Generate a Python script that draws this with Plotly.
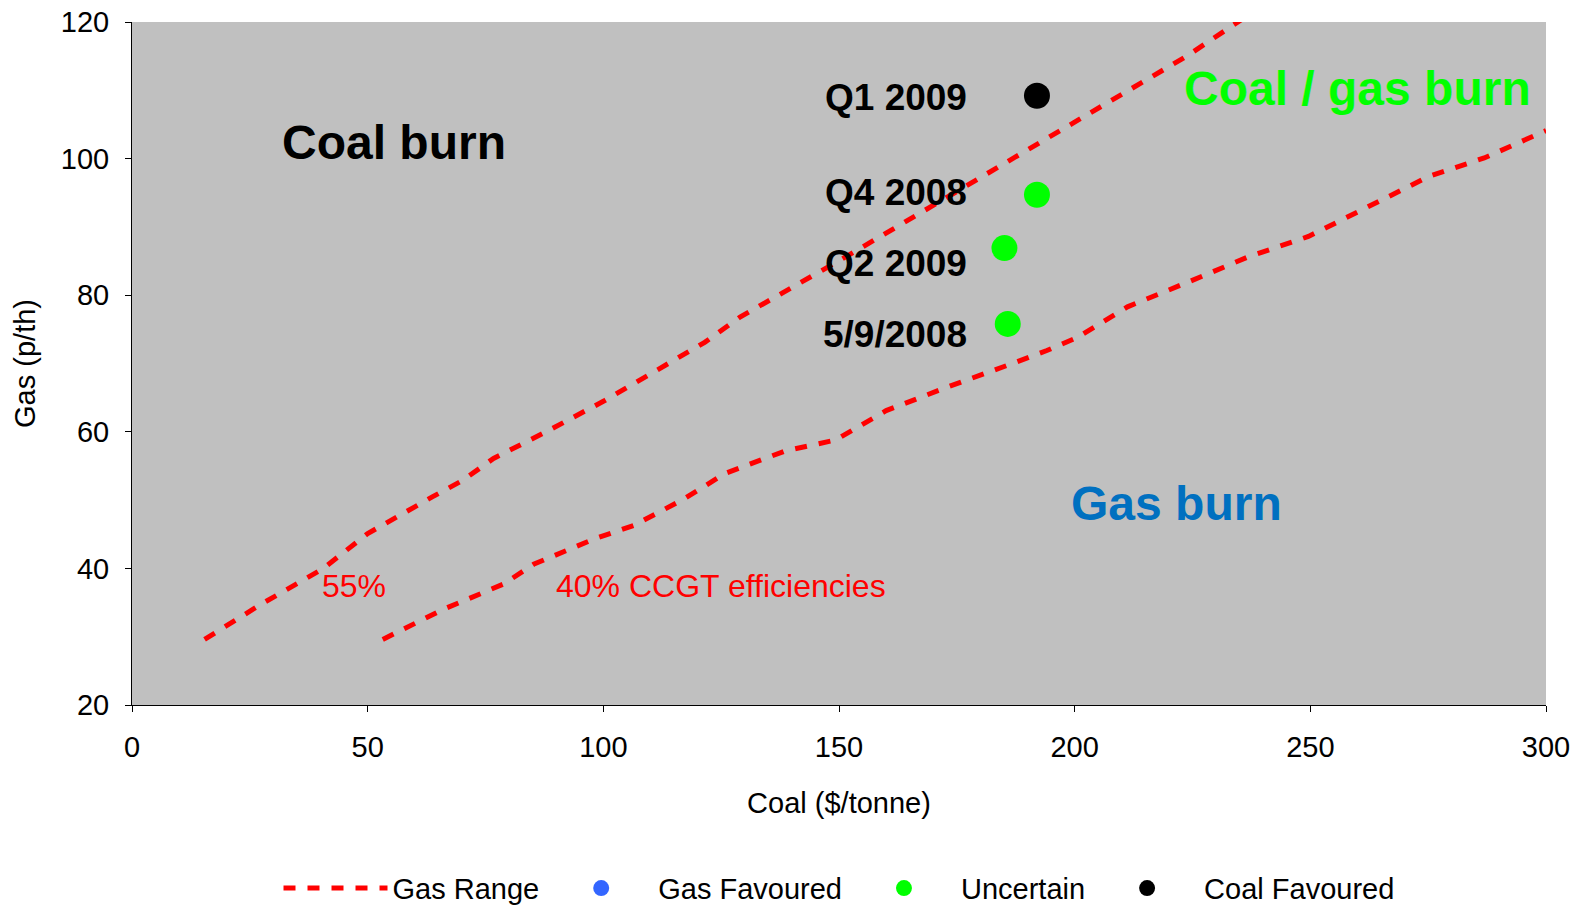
import plotly.graph_objects as go

# ---- data ----
line55_coal = [15.4, 27.5, 40.4, 50.0, 63.8, 70.2, 76.7, 87.3, 100.1, 110.8, 121.5, 129.0, 138.6, 151.4, 164.2, 177.0, 185.5, 198.4, 211.2, 224.0, 236.8]
line55_gas = [29.6, 34.8, 39.9, 45.1, 50.5, 52.9, 56.1, 59.8, 64.5, 68.7, 73.1, 76.8, 80.5, 85.6, 90.8, 96.0, 99.6, 104.8, 110.0, 115.1, 121.0]

line40_coal = [53.2, 66.0, 78.8, 85.2, 98.0, 106.5, 117.2, 125.8, 138.6, 149.3, 160.0, 172.8, 185.6, 194.1, 200.5, 211.2, 224.0, 236.8, 249.6, 262.4, 275.2, 286.9, 300.0]
line40_gas = [29.6, 34.0, 37.7, 40.6, 44.3, 46.3, 50.2, 53.9, 57.2, 58.8, 63.1, 66.5, 69.7, 71.9, 73.8, 78.3, 81.9, 85.6, 88.6, 93.0, 97.4, 100.1, 104.1]

# no points in the "Gas Favoured" class (legend entry only)
gas_fav_coal = [None]
gas_fav_gas = [None]

uncertain_labels = ["Q4 2008", "Q2 2009", "5/9/2008"]
uncertain_coal = [192.0, 185.1, 185.8]
uncertain_gas = [94.7, 86.9, 75.8]

coal_fav_labels = ["Q1 2009"]
coal_fav_coal = [192.0]
coal_fav_gas = [109.2]

x_ticks = [0, 50, 100, 150, 200, 250, 300]
y_ticks = [20, 40, 60, 80, 100, 120]

FONT = "Liberation Sans, Arial, sans-serif"
RED = "#FF0000"
GREEN = "#00FF00"
BLACK = "#000000"
BLUE_MARK = "#3366FF"

fig = go.Figure()
fig.add_trace(go.Scatter(x=line55_coal, y=line55_gas, mode="lines", name="Gas Range",
                         line=dict(color=RED, width=5, dash="12px,12px"), legendrank=1))
fig.add_trace(go.Scatter(x=line40_coal, y=line40_gas, mode="lines", name="Gas Range",
                         line=dict(color=RED, width=5, dash="12px,12px"), showlegend=False))
fig.add_trace(go.Scatter(x=gas_fav_coal, y=gas_fav_gas, mode="markers", name="Gas Favoured",
                         marker=dict(color=BLUE_MARK, size=24), legendrank=2))
fig.add_trace(go.Scatter(x=uncertain_coal, y=uncertain_gas, mode="markers", name="Uncertain",
                         marker=dict(color=GREEN, size=26), legendrank=3))
fig.add_trace(go.Scatter(x=coal_fav_coal, y=coal_fav_gas, mode="markers", name="Coal Favoured",
                         marker=dict(color=BLACK, size=26), legendrank=4))

annotations = []
# point labels
label_pos = {"Q1 2009": 109.0, "Q4 2008": 95.1, "Q2 2009": 84.7, "5/9/2008": 74.3}
for lab, yy in label_pos.items():
    annotations.append(dict(x=177.6, y=yy, text="<b>%s</b>" % lab, showarrow=False,
                            xanchor="right", yanchor="middle",
                            font=dict(family=FONT, size=37, color=BLACK)))
annotations += [
    dict(x=55.6, y=102.3, text="<b>Coal burn</b>", showarrow=False,
         font=dict(family=FONT, size=48, color=BLACK)),
    dict(x=260.0, y=110.3, text="<b>Coal / gas burn</b>", showarrow=False,
         font=dict(family=FONT, size=48, color=GREEN)),
    dict(x=221.6, y=49.5, text="<b>Gas burn</b>", showarrow=False,
         font=dict(family=FONT, size=48, color="#0070C0")),
    dict(x=47.0, y=37.4, text="55%", showarrow=False,
         font=dict(family=FONT, size=32, color=RED)),
    dict(x=124.9, y=37.4, text="40% CCGT efficiencies", showarrow=False,
         font=dict(family=FONT, size=32, color=RED)),
]

fig.update_layout(
    width=1578, height=909,
    margin=dict(l=132, r=32, t=22, b=204, autoexpand=False),
    paper_bgcolor="white",
    plot_bgcolor="#C0C0C0",
    font=dict(family=FONT, size=29, color=BLACK),
    showlegend=True,
    legend=dict(orientation="h", x=0.5, xanchor="center", y=-0.231, yanchor="top",
                yref="paper", font=dict(family=FONT, size=29, color=BLACK),
                itemwidth=104, traceorder="normal", bgcolor="rgba(0,0,0,0)"),
    annotations=annotations,
)
fig.update_xaxes(range=[0, 300], tickvals=x_ticks, showgrid=False, zeroline=False,
                 showline=True, linecolor=BLACK, linewidth=1, ticks="outside", ticklen=6,
                 tickcolor=BLACK, ticklabelstandoff=10, automargin=False,
                 title=dict(text="Coal ($/tonne)", standoff=30, font=dict(size=29)))
fig.update_yaxes(range=[20, 120], tickvals=y_ticks, showgrid=False, zeroline=False,
                 showline=True, linecolor=BLACK, linewidth=1, ticks="outside", ticklen=6,
                 tickcolor=BLACK, ticklabelstandoff=10, automargin=False,
                 title=dict(text="Gas (p/th)", standoff=16, font=dict(size=29)))

fig.write_html("out.html", config={"displayModeBar": False},
               post_script="document.body.style.margin='0';")
